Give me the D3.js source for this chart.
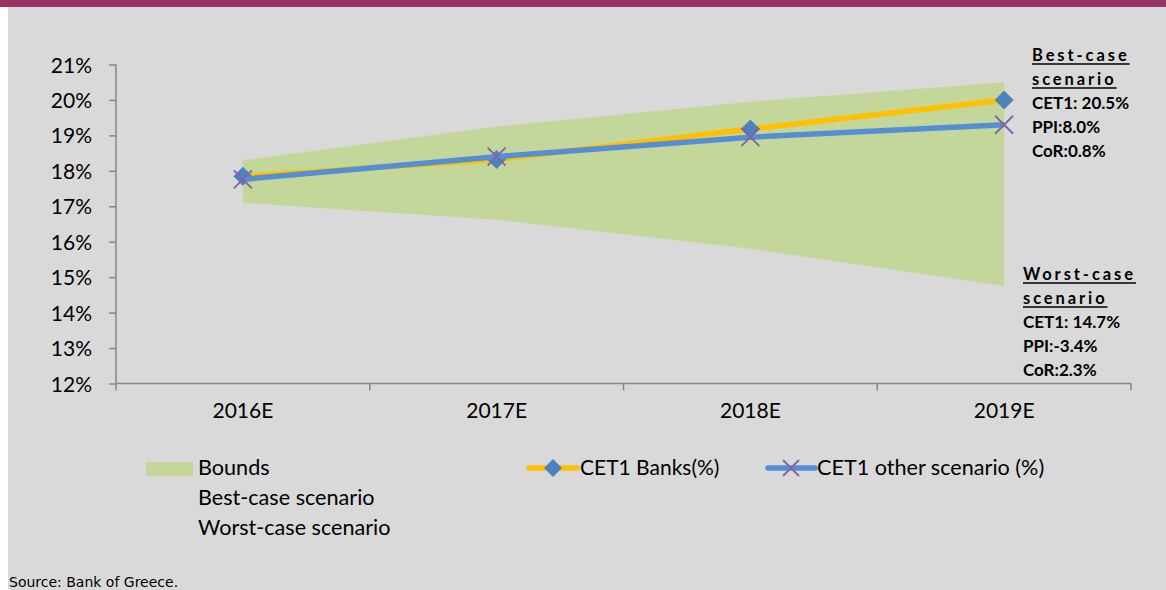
<!DOCTYPE html>
<html><head><meta charset="utf-8">
<script src="https://cdn.jsdelivr.net/npm/d3@7"></script>
<style>
html,body{margin:0;padding:0;background:#fff;}
svg{display:block;}
</style></head>
<body>
<svg id="chart" width="1166" height="590"></svg>
<script>
const categories = ["2016E","2017E","2018E","2019E"];
const cet1Banks = [17.85, 18.32, 19.18, 20.0];
const cet1Other = [17.76, 18.40, 18.95, 19.30];
const boundsUpper = [18.30, 19.25, 19.95, 20.50];
const boundsLower = [17.10, 16.62, 15.80, 14.75];
const yTicks = [12,13,14,15,16,17,18,19,20,21];
const legendLeft = ["Bounds","Best-case scenario","Worst-case scenario"];
const seriesNames = ["CET1 Banks(%)","CET1 other scenario (%)"];
const bestLabel = {title:["Best-case","scenario"], lines:["CET1: 20.5%","PPI:8.0%","CoR:0.8%"]};
const worstLabel = {title:["Worst-case","scenario"], lines:["CET1: 14.7%","PPI:-3.4%","CoR:2.3%"]};
const sourceText = "Source: Bank of Greece.";

const FONT = "Lato, 'Open Sans', sans-serif";
const svg = d3.select("#chart");
// background
svg.append("rect").attr("x",0).attr("y",0).attr("width",1166).attr("height",590).attr("fill","#ffffff");
svg.append("rect").attr("x",8).attr("y",7).attr("width",1158).attr("height",583).attr("fill","#d9d9d9");
svg.append("rect").attr("x",0).attr("y",0).attr("width",1166).attr("height",7).attr("fill","#993366");

const x = d3.scaleBand().domain(categories).range([116,1131]).padding(0);
const y = d3.scaleLinear().domain([12,21]).range([383.5,64.5]);
const cx = c => x(c) + x.bandwidth()/2;
const axisColor = "#868686";

// bounds area
const area = d3.area().x((d,i)=>cx(categories[i])).y0(d=>y(d[0])).y1(d=>y(d[1]));
svg.append("path").datum(boundsLower.map((l,i)=>[l,boundsUpper[i]]))
  .attr("d",area).attr("fill","#c4d79b");

// y axis
const yAxis = svg.append("g").attr("transform","translate(116,0)")
  .call(d3.axisLeft(y).tickValues(yTicks).tickSize(7).tickPadding(17).tickFormat(d=>d+"%"));
yAxis.select(".domain").attr("stroke",axisColor).attr("stroke-width",1.5).attr("d","M0,64.5V383.5");
yAxis.selectAll(".tick line").attr("stroke",axisColor).attr("stroke-width",1.5);
yAxis.selectAll(".tick text").attr("font-family",FONT).attr("font-size",21).attr("fill","#000").attr("dy","0.36em");

// x axis
const xAxis = svg.append("g").attr("transform","translate(0,383.5)")
  .call(d3.axisBottom(x).tickSize(0).tickPadding(20));
xAxis.select(".domain").attr("stroke",axisColor).attr("stroke-width",1.5).attr("d","M116,0H1131");
xAxis.selectAll(".tick text").attr("font-family",FONT).attr("font-size",21).attr("fill","#000");
const bounds = categories.map(c=>x(c)).concat([x(categories[categories.length-1])+x.bandwidth()]);
svg.append("g").selectAll("line").data(bounds).join("line")
  .attr("x1",d=>d).attr("x2",d=>d).attr("y1",383.5).attr("y2",390.5)
  .attr("stroke",axisColor).attr("stroke-width",1.5);

// lines
const line = d3.line().x((d,i)=>cx(categories[i])).y(d=>y(d));
function diamondPath(px,py,r){return `M${px},${py-r}L${px+r},${py}L${px},${py+r}L${px-r},${py}Z`;}
function crossPath(px,py,r){return `M${px-r},${py-r}L${px+r},${py+r}M${px+r},${py-r}L${px-r},${py+r}`;}

svg.append("path").datum(cet1Banks).attr("d",line).attr("fill","none")
  .attr("stroke","#ffc000").attr("stroke-width",5.5).attr("stroke-linejoin","round");
svg.append("g").selectAll("path").data(cet1Banks).join("path")
  .attr("d",(d,i)=>diamondPath(cx(categories[i]),y(d),9.5)).attr("fill","#4f81bd");
svg.append("path").datum(cet1Other).attr("d",line).attr("fill","none")
  .attr("stroke","#558ed5").attr("stroke-width",5.5).attr("stroke-linejoin","round");
svg.append("g").selectAll("path").data(cet1Other).join("path")
  .attr("d",(d,i)=>crossPath(cx(categories[i]),y(d),9)).attr("fill","none")
  .attr("stroke","#8064a2").attr("stroke-width",1.8);

// annotations
function annot(lbl, x0, baseTitle){
  const g = svg.append("g").attr("font-family",FONT).attr("font-weight","bold").attr("fill","#000");
  lbl.title.forEach((t,i)=>{
    const tx = g.append("text").attr("x",x0).attr("y",baseTitle+i*24).attr("font-size",16.5)
      .attr("letter-spacing","2.9px").text(t);
    const w = tx.node().getComputedTextLength();
    g.append("line").attr("x1",x0).attr("x2",x0+w).attr("y1",baseTitle+i*24+3).attr("y2",baseTitle+i*24+3)
      .attr("stroke","#000").attr("stroke-width",1.3);
  });
  lbl.lines.forEach((t,i)=>{
    g.append("text").attr("x",x0).attr("y",baseTitle+48+i*24).attr("font-size",17).text(t);
  });
}
annot(bestLabel, 1032, 61);
annot(worstLabel, 1023, 280);

// legend
const lg = svg.append("g").attr("font-family",FONT).attr("font-size",21.6).attr("fill","#000");
lg.append("rect").attr("x",146).attr("y",462).attr("width",47).attr("height",14).attr("fill","#c4d79b");
legendLeft.forEach((t,i)=>lg.append("text").attr("x",198).attr("y",475+i*30).text(t));
// series 1
lg.append("line").attr("x1",529).attr("x2",577).attr("y1",468).attr("y2",468)
  .attr("stroke","#ffc000").attr("stroke-width",5.5).attr("stroke-linecap","round");
lg.append("path").attr("d",diamondPath(553,468,9)).attr("fill","#4f81bd");
lg.append("text").attr("x",580).attr("y",475).attr("font-size",21).text(seriesNames[0]);
// series 2
lg.append("line").attr("x1",768).attr("x2",815).attr("y1",468).attr("y2",468)
  .attr("stroke","#558ed5").attr("stroke-width",5.5).attr("stroke-linecap","round");
lg.append("path").attr("d",crossPath(791,468,8)).attr("fill","none").attr("stroke","#8064a2").attr("stroke-width",1.8);
lg.append("text").attr("x",817).attr("y",475).text(seriesNames[1]);

// source
svg.append("text").attr("x",9).attr("y",587).attr("font-family","'DejaVu Sans', sans-serif")
  .attr("font-size",14).attr("fill","#000").text(sourceText);
</script>
</body></html>
